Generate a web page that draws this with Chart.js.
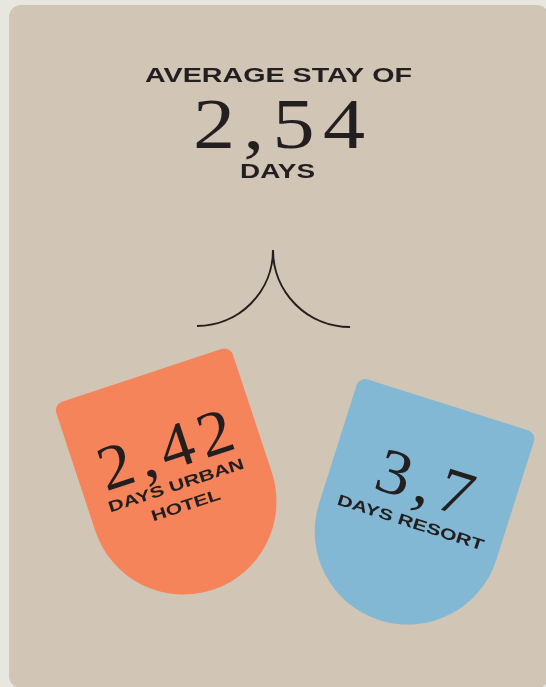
<!DOCTYPE html>
<html>
<head>
<meta charset="utf-8">
<script src="https://cdn.jsdelivr.net/npm/chart.js@4"></script>
<style>
body { margin: 0; background: #e8e7df; }
#wrap { width: 546px; height: 687px; }
</style>
</head>
<body>
<div id="wrap"><canvas id="stay" width="546" height="687"></canvas></div>
<script>
var averageStay = 2.54;
var stayTypes = ['DAYS URBAN HOTEL', 'DAYS RESORT'];
var stayDays = [2.42, 3.7];
var labelLines = [['DAYS URBAN', 'HOTEL'], ['DAYS RESORT']];

var shieldColors = ['#f5845a', '#82b8d3'];
var shieldTilt = [-18.3, 17.6]; // degrees
var ink = '#231f20';
var sans = 'bold {s}px "Liberation Sans", Arial, sans-serif';
var serif = '{s}px "Liberation Serif", "Times New Roman", serif';

function commaNum(v) {
  return String(v).replace('.', ',');
}

function font(tpl, size) {
  return tpl.replace('{s}', size);
}

// draws text centered on x, stretched to the given width (wide display faces)
function wideText(ctx, text, x, y, f, width, spacing) {
  spacing = spacing || 0;
  ctx.save();
  ctx.font = f;
  ctx.letterSpacing = spacing + 'px';
  var w = ctx.measureText(text).width - spacing;
  ctx.translate(x - width / 2, y);
  ctx.scale(width / w, 1);
  ctx.textAlign = 'left';
  ctx.textBaseline = 'alphabetic';
  ctx.fillText(text, 0, 0);
  ctx.restore();
}

function shieldPath(ctx, half, straight, r) {
  var top = -(straight + half) / 2;
  var cy = top + straight;
  ctx.beginPath();
  ctx.moveTo(-half + r, top);
  ctx.lineTo(half - r, top);
  ctx.arcTo(half, top, half, top + r, r);
  ctx.lineTo(half, cy);
  ctx.arc(0, cy, half, 0, Math.PI);
  ctx.lineTo(-half, top + r);
  ctx.arcTo(-half, top, -half + r, top, r);
  ctx.closePath();
}

var infographic = {
  id: 'infographic',
  beforeDraw: function(chart) {
    var ctx = chart.ctx;
    ctx.save();
    ctx.fillStyle = '#d1c5b5';
    ctx.beginPath();
    ctx.roundRect(9, 5, 540, 683, 12);
    ctx.fill();

    // header
    ctx.fillStyle = ink;
    wideText(ctx, 'AVERAGE STAY OF', 278.5, 82, font(sans, 19.5), 267);
    wideText(ctx, commaNum(averageStay), 279, 148, font(serif, 72), 172, 7);
    wideText(ctx, 'DAYS', 277.5, 178, font(sans, 21), 75);

    // split mark
    ctx.strokeStyle = ink;
    ctx.lineWidth = 2;
    ctx.beginPath();
    ctx.arc(197, 250, 76, 0, Math.PI / 2);
    ctx.stroke();
    ctx.beginPath();
    ctx.arc(350, 250, 77, Math.PI / 2, Math.PI);
    ctx.stroke();
    ctx.restore();
  },
  afterDatasetsDraw: function(chart) {
    var ctx = chart.ctx;
    var meta = chart.getDatasetMeta(0);
    meta.data.forEach(function(pt, i) {
      ctx.save();
      ctx.translate(pt.x, pt.y);
      ctx.rotate(shieldTilt[i] * Math.PI / 180);
      shieldPath(ctx, 93, 133, 9);
      ctx.fillStyle = shieldColors[i];
      ctx.fill();

      ctx.fillStyle = ink;
      var txt = commaNum(stayDays[i]);
      if (i === 0) {
        wideText(ctx, txt, -1, -14, font(serif, 64), 139, 6);
        wideText(ctx, labelLines[i][0], -2, 7.5, font(sans, 15.5), 142);
        wideText(ctx, labelLines[i][1], 1, 29.5, font(sans, 15.5), 72);
      } else {
        wideText(ctx, txt, 2, -11, font(serif, 64), 99, 6);
        wideText(ctx, labelLines[i][0], 0, 15.5, font(sans, 15.5), 153);
      }
      ctx.restore();
    });
  }
};

new Chart(document.getElementById('stay'), {
  type: 'line',
  data: {
    labels: stayTypes,
    datasets: [{
      data: stayDays,
      showLine: false,
      pointRadius: 0,
      pointHoverRadius: 0
    }]
  },
  options: {
    responsive: false,
    animation: false,
    events: [],
    layout: { padding: { left: 59, right: 14, top: 426, bottom: 74 } },
    plugins: {
      legend: { display: false },
      tooltip: { enabled: false }
    },
    scales: {
      x: { display: false, offset: true },
      y: { display: false, reverse: true, min: 0, max: 8 }
    }
  },
  plugins: [infographic]
});
</script>
</body>
</html>
